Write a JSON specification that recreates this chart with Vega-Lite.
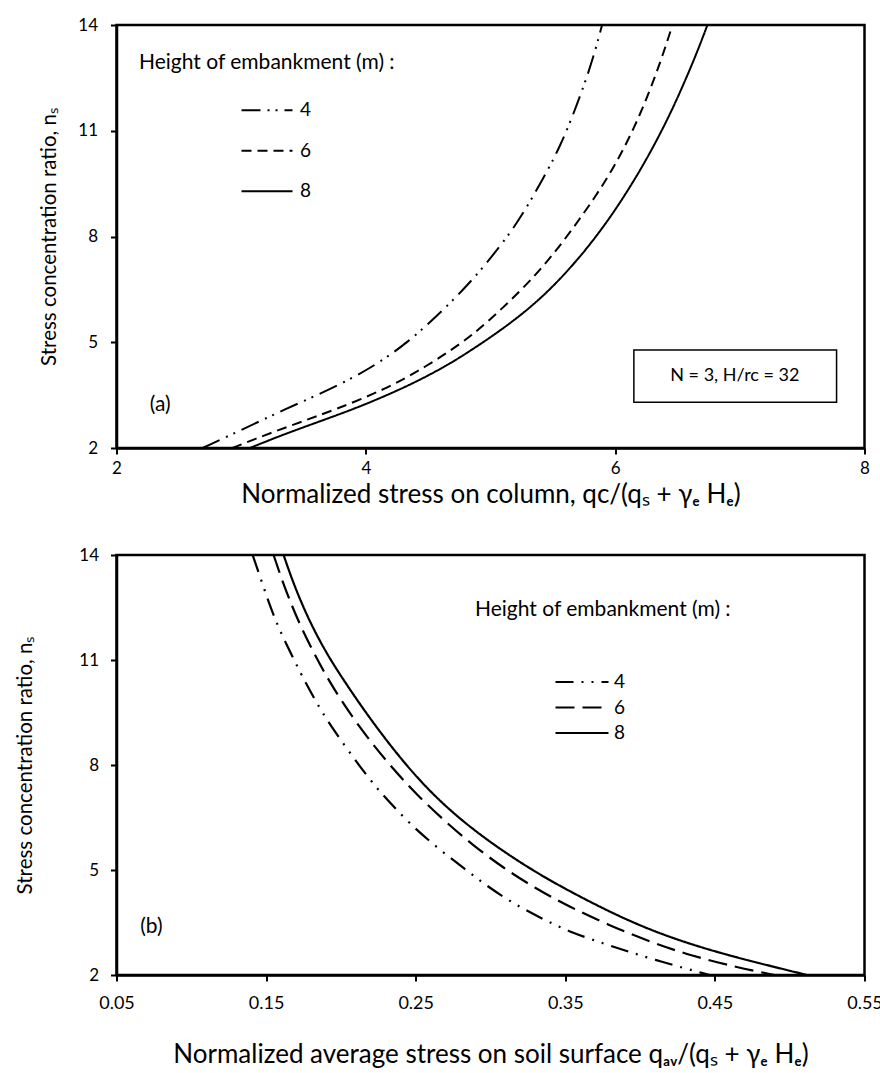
{
  "$schema": "https://vega.github.io/schema/vega-lite/v6.json",
  "padding": {"left": 14.5, "top": 14, "right": 0, "bottom": 0},
  "spacing": 35,
  "config": {
    "font": "Lato",
    "view": {"stroke": "#000", "strokeWidth": 2.5},
    "axis": {
      "grid": false,
      "domainColor": "#000",
      "domainWidth": 2.5,
      "tickColor": "#000",
      "tickWidth": 2,
      "tickSize": 6,
      "labelColor": "#000",
      "labelFont": "Lato",
      "labelFontSize": 17,
      "labelFlush": false,
      "titleColor": "#000",
      "titleFont": "Lato",
      "titleFontWeight": "normal"
    },
    "legend": {
      "orient": "none",
      "padding": 0,
      "titleColor": "#000",
      "titleFont": "Lato",
      "titleFontWeight": "normal",
      "titleFontSize": 21,
      "titleLimit": 0,
      "labelColor": "#000",
      "labelFont": "Lato",
      "labelFontSize": 19,
      "symbolSize": 100,
      "symbolStrokeWidth": 2,
      "symbolStrokeColor": "#000"
    },
    "text": {"font": "Lato", "color": "#000"}
  },
  "datasets": {
    "columnStress": [
      {"height": "4", "stress": 2.69, "ns": 2.0},
      {"height": "4", "stress": 3.02, "ns": 2.54},
      {"height": "4", "stress": 3.35, "ns": 3.1},
      {"height": "4", "stress": 3.72, "ns": 3.67},
      {"height": "4", "stress": 4.05, "ns": 4.28},
      {"height": "4", "stress": 4.34, "ns": 5.0},
      {"height": "4", "stress": 4.58, "ns": 5.78},
      {"height": "4", "stress": 4.78, "ns": 6.48},
      {"height": "4", "stress": 4.96, "ns": 7.2},
      {"height": "4", "stress": 5.17, "ns": 8.15},
      {"height": "4", "stress": 5.3, "ns": 8.88},
      {"height": "4", "stress": 5.46, "ns": 9.88},
      {"height": "4", "stress": 5.56, "ns": 10.58},
      {"height": "4", "stress": 5.66, "ns": 11.42},
      {"height": "4", "stress": 5.77, "ns": 12.48},
      {"height": "4", "stress": 5.84, "ns": 13.27},
      {"height": "4", "stress": 5.895, "ns": 14.0},
      {"height": "6", "stress": 2.93, "ns": 2.0},
      {"height": "6", "stress": 3.09, "ns": 2.23},
      {"height": "6", "stress": 3.43, "ns": 2.68},
      {"height": "6", "stress": 3.75, "ns": 3.08},
      {"height": "6", "stress": 4.16, "ns": 3.67},
      {"height": "6", "stress": 4.48, "ns": 4.3},
      {"height": "6", "stress": 4.78, "ns": 5.0},
      {"height": "6", "stress": 4.96, "ns": 5.52},
      {"height": "6", "stress": 5.25, "ns": 6.48},
      {"height": "6", "stress": 5.46, "ns": 7.3},
      {"height": "6", "stress": 5.65, "ns": 8.17},
      {"height": "6", "stress": 5.84, "ns": 9.12},
      {"height": "6", "stress": 5.98, "ns": 9.91},
      {"height": "6", "stress": 6.1, "ns": 10.7},
      {"height": "6", "stress": 6.22, "ns": 11.62},
      {"height": "6", "stress": 6.33, "ns": 12.62},
      {"height": "6", "stress": 6.41, "ns": 13.45},
      {"height": "6", "stress": 6.46, "ns": 14.0},
      {"height": "8", "stress": 3.07, "ns": 2.0},
      {"height": "8", "stress": 3.35, "ns": 2.4},
      {"height": "8", "stress": 3.73, "ns": 2.88},
      {"height": "8", "stress": 4.0, "ns": 3.24},
      {"height": "8", "stress": 4.32, "ns": 3.73},
      {"height": "8", "stress": 4.58, "ns": 4.2},
      {"height": "8", "stress": 4.8, "ns": 4.66},
      {"height": "8", "stress": 5.18, "ns": 5.57},
      {"height": "8", "stress": 5.46, "ns": 6.42},
      {"height": "8", "stress": 5.68, "ns": 7.26},
      {"height": "8", "stress": 5.86, "ns": 8.05},
      {"height": "8", "stress": 6.02, "ns": 8.85},
      {"height": "8", "stress": 6.18, "ns": 9.75},
      {"height": "8", "stress": 6.32, "ns": 10.63},
      {"height": "8", "stress": 6.45, "ns": 11.54},
      {"height": "8", "stress": 6.56, "ns": 12.41},
      {"height": "8", "stress": 6.66, "ns": 13.25},
      {"height": "8", "stress": 6.74, "ns": 14.0}
    ],
    "soilStress": [
      {"height": "4", "stress": 0.141, "ns": 14.0},
      {"height": "4", "stress": 0.1463, "ns": 13.34},
      {"height": "4", "stress": 0.1517, "ns": 12.65},
      {"height": "4", "stress": 0.157, "ns": 12.06},
      {"height": "4", "stress": 0.1631, "ns": 11.49},
      {"height": "4", "stress": 0.1698, "ns": 10.91},
      {"height": "4", "stress": 0.1765, "ns": 10.34},
      {"height": "4", "stress": 0.1839, "ns": 9.77},
      {"height": "4", "stress": 0.1919, "ns": 9.2},
      {"height": "4", "stress": 0.2033, "ns": 8.51},
      {"height": "4", "stress": 0.214, "ns": 7.88},
      {"height": "4", "stress": 0.2241, "ns": 7.34},
      {"height": "4", "stress": 0.2288, "ns": 7.11},
      {"height": "4", "stress": 0.2455, "ns": 6.34},
      {"height": "4", "stress": 0.2636, "ns": 5.66},
      {"height": "4", "stress": 0.2837, "ns": 5.0},
      {"height": "4", "stress": 0.2971, "ns": 4.56},
      {"height": "4", "stress": 0.3146, "ns": 4.06},
      {"height": "4", "stress": 0.3347, "ns": 3.6},
      {"height": "4", "stress": 0.3548, "ns": 3.2},
      {"height": "4", "stress": 0.3782, "ns": 2.86},
      {"height": "4", "stress": 0.411, "ns": 2.41},
      {"height": "4", "stress": 0.4465, "ns": 2.0},
      {"height": "6", "stress": 0.155, "ns": 14.0},
      {"height": "6", "stress": 0.1604, "ns": 13.31},
      {"height": "6", "stress": 0.1671, "ns": 12.56},
      {"height": "6", "stress": 0.1738, "ns": 11.9},
      {"height": "6", "stress": 0.1832, "ns": 11.09},
      {"height": "6", "stress": 0.1919, "ns": 10.42},
      {"height": "6", "stress": 0.2006, "ns": 9.82},
      {"height": "6", "stress": 0.212, "ns": 9.11},
      {"height": "6", "stress": 0.2234, "ns": 8.48},
      {"height": "6", "stress": 0.2355, "ns": 7.86},
      {"height": "6", "stress": 0.2502, "ns": 7.17},
      {"height": "6", "stress": 0.2703, "ns": 6.36},
      {"height": "6", "stress": 0.2877, "ns": 5.73},
      {"height": "6", "stress": 0.3078, "ns": 5.08},
      {"height": "6", "stress": 0.3306, "ns": 4.46},
      {"height": "6", "stress": 0.3527, "ns": 3.95},
      {"height": "6", "stress": 0.3782, "ns": 3.44},
      {"height": "6", "stress": 0.4083, "ns": 2.92},
      {"height": "6", "stress": 0.4351, "ns": 2.54},
      {"height": "6", "stress": 0.4646, "ns": 2.22},
      {"height": "6", "stress": 0.49, "ns": 2.0},
      {"height": "8", "stress": 0.1617, "ns": 14.0},
      {"height": "8", "stress": 0.167, "ns": 13.34},
      {"height": "8", "stress": 0.1738, "ns": 12.61},
      {"height": "8", "stress": 0.1818, "ns": 11.87},
      {"height": "8", "stress": 0.1919, "ns": 11.08},
      {"height": "8", "stress": 0.2033, "ns": 10.33},
      {"height": "8", "stress": 0.214, "ns": 9.66},
      {"height": "8", "stress": 0.2274, "ns": 8.87},
      {"height": "8", "stress": 0.2435, "ns": 8.0},
      {"height": "8", "stress": 0.2609, "ns": 7.18},
      {"height": "8", "stress": 0.281, "ns": 6.4},
      {"height": "8", "stress": 0.3038, "ns": 5.67},
      {"height": "8", "stress": 0.3259, "ns": 5.05},
      {"height": "8", "stress": 0.348, "ns": 4.5},
      {"height": "8", "stress": 0.3815, "ns": 3.76},
      {"height": "8", "stress": 0.4083, "ns": 3.26},
      {"height": "8", "stress": 0.4351, "ns": 2.86},
      {"height": "8", "stress": 0.4619, "ns": 2.53},
      {"height": "8", "stress": 0.4887, "ns": 2.24},
      {"height": "8", "stress": 0.5115, "ns": 2.0}
    ]
  },
  "vconcat": [
    {
      "width": 748,
      "height": 423,
      "layer": [
        {
          "data": {"name": "columnStress"},
          "mark": {"type": "line", "stroke": "#000", "strokeWidth": 2, "interpolate": "basis"},
          "encoding": {
            "x": {
              "field": "stress", "type": "quantitative",
              "scale": {"domain": [2, 8], "nice": false, "zero": false},
              "axis": {"values": [2, 4, 6, 8], "format": "d", "title": "Normalized stress on column, qc/(qₛ + γₑ Hₑ)", "titleFontSize": 26, "labelPadding": 6, "titlePadding": 5}
            },
            "y": {
              "field": "ns", "type": "quantitative",
              "scale": {"domain": [2, 14], "nice": false, "zero": false},
              "axis": {"values": [2, 5, 8, 11, 14], "title": "Stress concentration ratio, nₛ", "titleFontSize": 20.5, "labelPadding": 13, "titlePadding": 18}
            },
            "strokeDash": {
              "field": "height", "type": "nominal",
              "scale": {"domain": ["4", "6", "8"], "range": [[19, 7, 2, 6, 2, 7], [10, 6], [1, 0]]},
              "legend": {
                "title": "Height of embankment (m) :",
                "legendX": 22.5, "legendY": 26.8,
                "titlePadding": 28,
                "symbolType": "M18.6,0H28.8",
                "labelOffset": 142,
                "rowPadding": 20.5
              }
            }
          }
        },
        {
          "data": {"values": [{"label": "(a)"}]},
          "mark": {"type": "text", "fontSize": 21},
          "encoding": {
            "x": {"datum": 2.35, "type": "quantitative"},
            "y": {"datum": 3.22, "type": "quantitative"},
            "text": {"field": "label"}
          }
        },
        {
          "data": {"values": [{"label": "N = 3, H/rc = 32"}]},
          "mark": {"type": "rect", "fill": "#fff", "stroke": "#000", "strokeWidth": 1.5},
          "encoding": {
            "x": {"datum": 6.15, "type": "quantitative"},
            "x2": {"datum": 7.776},
            "y": {"datum": 4.78, "type": "quantitative"},
            "y2": {"datum": 3.3}
          }
        },
        {
          "data": {"values": [{"label": "N = 3, H/rc = 32"}]},
          "mark": {"type": "text", "fontSize": 18},
          "encoding": {
            "x": {"datum": 6.96, "type": "quantitative"},
            "y": {"datum": 4.04, "type": "quantitative"},
            "text": {"field": "label"}
          }
        }
      ]
    },
    {
      "width": 748,
      "height": 420,
      "layer": [
        {
          "data": {"name": "soilStress"},
          "mark": {"type": "line", "stroke": "#000", "strokeWidth": 2.2, "interpolate": "basis"},
          "encoding": {
            "x": {
              "field": "stress", "type": "quantitative",
              "scale": {"domain": [0.05, 0.55], "nice": false, "zero": false},
              "axis": {"values": [0.05, 0.15, 0.25, 0.35, 0.45, 0.55], "format": ".2f", "labelFontSize": 18, "title": "Normalized average stress on soil surface qₐᵥ/(qₛ + γₑ Hₑ)", "titleFontSize": 26, "labelPadding": 13, "titlePadding": 29}
            },
            "y": {
              "field": "ns", "type": "quantitative",
              "scale": {"domain": [2, 14], "nice": false, "zero": false},
              "axis": {"values": [2, 5, 8, 11, 14], "title": "Stress concentration ratio, nₛ", "titleFontSize": 20.5, "labelPadding": 12, "titlePadding": 43}
            },
            "strokeDash": {
              "field": "height", "type": "nominal",
              "scale": {"domain": ["4", "6", "8"], "range": [[18, 8, 2, 8, 2, 8], [19, 8], [1, 0]]},
              "legend": {
                "title": "Height of embankment (m) :",
                "legendX": 358.5, "legendY": 43.5,
                "titlePadding": 53,
                "symbolType": "M14.2,0H24.8",
                "labelOffset": 120,
                "rowPadding": 5.5
              }
            }
          }
        },
        {
          "data": {"values": [{"label": "(b)"}]},
          "mark": {"type": "text", "fontSize": 21},
          "encoding": {
            "x": {"datum": 0.0733, "type": "quantitative"},
            "y": {"datum": 3.37, "type": "quantitative"},
            "text": {"field": "label"}
          }
        }
      ]
    }
  ],
  "resolve": {
    "scale": {"strokeDash": "independent"},
    "legend": {"strokeDash": "independent"}
  }
}
